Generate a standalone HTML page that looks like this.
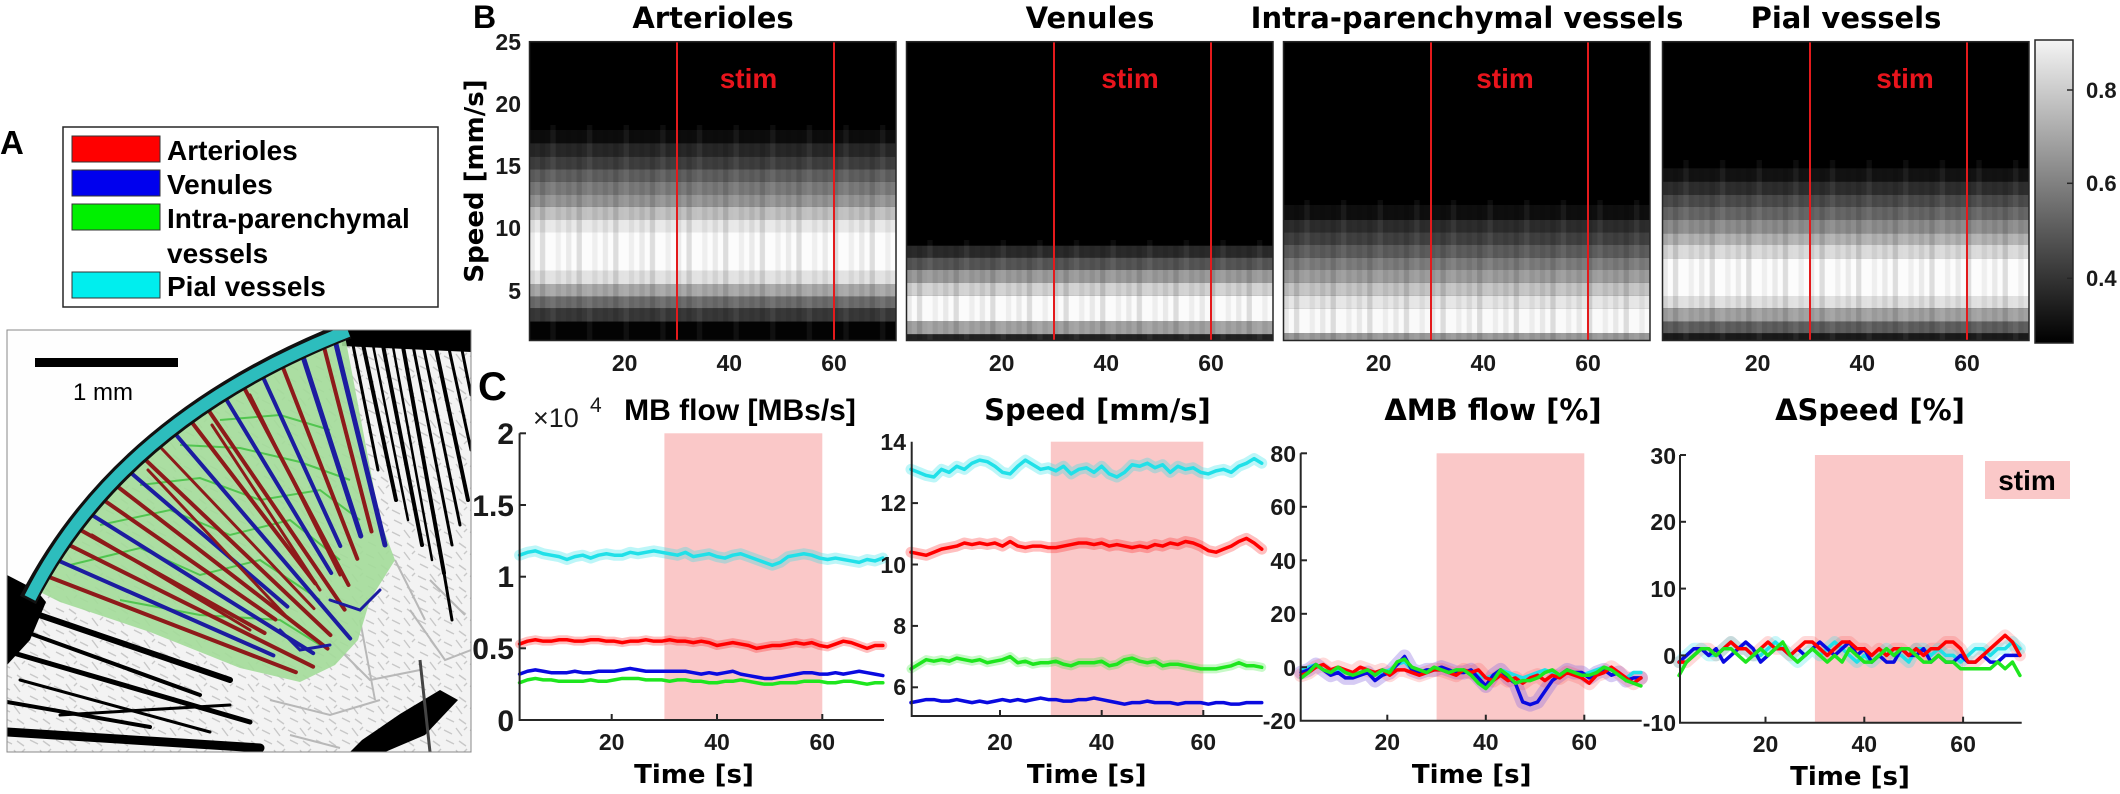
<!DOCTYPE html>
<html><head><meta charset="utf-8"><style>
html,body{margin:0;padding:0;background:#fff;}
svg{display:block;}
.t{font-family:"DejaVu Sans",sans-serif;font-weight:bold;fill:#000;}
.n{font-family:"Liberation Sans",sans-serif;font-weight:bold;fill:#1a1a1a;}
.l{font-family:"Liberation Sans",sans-serif;font-weight:bold;fill:#000;}
.stim{font-family:"Liberation Sans",sans-serif;font-weight:bold;fill:#e8141c;font-size:28px;text-anchor:middle;}
</style></head><body>
<svg width="2120" height="794" viewBox="0 0 2120 794" xmlns="http://www.w3.org/2000/svg">
<defs>
<pattern id="cols" x="0" y="0" width="36.63" height="20" patternUnits="userSpaceOnUse">
<rect x="0" y="0" width="5.23" height="20" fill="#000" fill-opacity="0.07"/>
<rect x="10.46" y="0" width="5.23" height="20" fill="#000" fill-opacity="0.12"/>
<rect x="20.9" y="0" width="5.23" height="20" fill="#fff" fill-opacity="0.05"/>
<rect x="26.15" y="0" width="5.23" height="20" fill="#000" fill-opacity="0.05"/>
</pattern>
<pattern id="tex" x="0" y="0" width="26" height="22" patternUnits="userSpaceOnUse">
<path d="M2,4 L10,8 M14,2 L20,10 M4,14 L12,18 M17,15 L24,20 M22,4 L25,1" stroke="#c8c8c8" stroke-width="1.4" fill="none"/>
</pattern>
<linearGradient id="cbar" x1="0" y1="0" x2="0" y2="1">
<stop offset="0" stop-color="#f4f4f4"/><stop offset="1" stop-color="#000"/>
</linearGradient>
<clipPath id="clipA"><rect x="7" y="330" width="464" height="422"/></clipPath>
</defs>

<!-- ===== Panel A ===== -->
<text class="l" x="0" y="154" font-size="33">A</text>
<rect x="63" y="127" width="375" height="180" fill="#fff" stroke="#262626" stroke-width="1.5"/>
<rect x="72" y="136" width="88" height="26" fill="#ff0000" stroke="#333" stroke-width="1"/>
<rect x="72" y="170" width="88" height="26" fill="#0000ee" stroke="#333" stroke-width="1"/>
<rect x="72" y="204" width="88" height="26" fill="#00f000" stroke="#333" stroke-width="1"/>
<rect x="72" y="272" width="88" height="26" fill="#00eeee" stroke="#333" stroke-width="1"/>
<text class="l" x="167" y="160" font-size="28">Arterioles</text>
<text class="l" x="167" y="194" font-size="28">Venules</text>
<text class="l" x="167" y="228" font-size="28">Intra-parenchymal</text>
<text class="l" x="167" y="263" font-size="28">vessels</text>
<text class="l" x="167" y="296" font-size="28">Pial vessels</text>

<g clip-path="url(#clipA)">
<rect x="7" y="330" width="464" height="422" fill="#fefefe"/>
<path d="M35,592 Q120,420 345,334 L471,330 L471,752 L7,752 L7,600 Z" fill="#f3f3f3"/>
<path d="M35,592 Q120,420 345,334 L471,330 L471,752 L7,752 L7,600 Z" fill="url(#tex)"/>
<g stroke="#b8b8b8" stroke-width="2" fill="none">
<path d="M330,640 L370,680 L420,670"/><path d="M270,700 L330,715 L380,700"/>
<path d="M360,620 L375,700"/><path d="M410,610 L445,660 L471,650"/>
<path d="M290,735 L340,748"/><path d="M430,580 L465,615"/><path d="M395,560 L425,620"/>
</g>
<!-- top-right black vessels -->
<polygon points="342,330 471,330 471,352 342,346" fill="#000"/>
<g stroke="#000" fill="none" stroke-linecap="round">
<line x1="350" y1="330" x2="378" y2="470" stroke-width="3"/>
<line x1="360" y1="330" x2="396" y2="500" stroke-width="4"/>
<line x1="370" y1="330" x2="408" y2="520" stroke-width="2.5"/>
<line x1="380" y1="330" x2="422" y2="545" stroke-width="4"/>
<line x1="390" y1="330" x2="432" y2="560" stroke-width="2.5"/>
<line x1="400" y1="330" x2="444" y2="573" stroke-width="4"/>
<line x1="410" y1="330" x2="452" y2="545" stroke-width="3"/>
<line x1="420" y1="330" x2="460" y2="525" stroke-width="3"/>
<line x1="432" y1="330" x2="468" y2="500" stroke-width="4"/>
<line x1="445" y1="330" x2="471" y2="450" stroke-width="3"/>
<line x1="458" y1="330" x2="471" y2="395" stroke-width="3"/>
<line x1="444" y1="573" x2="452" y2="620" stroke-width="3"/>
</g>
<!-- bottom-left black striations -->
<polygon points="7,575 36,590 46,602 30,640 7,665" fill="#000"/>
<g stroke="#000" fill="none" stroke-linecap="round">
<line x1="10" y1="605" x2="230" y2="680" stroke-width="6"/>
<line x1="15" y1="628" x2="200" y2="695" stroke-width="4"/>
<line x1="10" y1="652" x2="250" y2="722" stroke-width="5"/>
<line x1="20" y1="680" x2="210" y2="732" stroke-width="3"/>
<line x1="7" y1="702" x2="150" y2="727" stroke-width="4"/>
<line x1="7" y1="732" x2="260" y2="748" stroke-width="9"/>
<line x1="60" y1="715" x2="230" y2="705" stroke-width="3"/>
</g>
<!-- green sector -->
<polygon points="40,592 43.9,575 53.4,558.4 63.7,542.3 74.6,526.7 86.3,511.4 98.7,496.6 111.7,482.1 125.4,468.1 139.9,454.6 155,441.5 170.9,428.8 187.4,416.5 204.7,404.7 222.6,393.4 241.3,382.4 260.6,371.9 280.7,361.7 301.5,352 322.9,342.8 345,336 380,520 395,560 370,600 358,640 335,665 300,682 240,668 150,632 60,602" fill="#a3dc99" fill-opacity="0.9"/>
<g stroke="#3cc03c" stroke-width="2" fill="none" opacity="0.8">
<path d="M70,565 L140,548 L200,575 L260,560 L320,600"/><path d="M100,525 L170,510 L230,535 L290,520 L340,560"/>
<path d="M140,485 L200,478 L260,500 L320,490 L360,520"/><path d="M180,445 L240,448 L300,462 L350,480"/>
<path d="M120,600 L200,615 L280,620 L320,645"/><path d="M220,420 L280,415 L330,430"/>
</g>
<!-- red / blue penetrating vessels -->
<g fill="none" stroke-linecap="round">
<line x1="43.9" y1="575" x2="295.9" y2="672.2" stroke="#8e1a1a" stroke-width="4"/>
<line x1="53.4" y1="558.4" x2="273.4" y2="655.4" stroke="#1c1ca0" stroke-width="4"/>
<line x1="63.7" y1="542.3" x2="313.1" y2="666.7" stroke="#8e1a1a" stroke-width="4"/>
<line x1="74.6" y1="526.7" x2="264.6" y2="633" stroke="#8e1a1a" stroke-width="4"/>
<line x1="86.3" y1="511.4" x2="313.2" y2="653.2" stroke="#1c1ca0" stroke-width="4"/>
<line x1="98.7" y1="496.6" x2="275.4" y2="619.5" stroke="#8e1a1a" stroke-width="4"/>
<line x1="111.7" y1="482.1" x2="327.5" y2="648.6" stroke="#8e1a1a" stroke-width="4"/>
<line x1="125.4" y1="468.1" x2="287.4" y2="606.6" stroke="#1c1ca0" stroke-width="4"/>
<line x1="139.9" y1="454.6" x2="330.4" y2="635.1" stroke="#8e1a1a" stroke-width="4"/>
<line x1="155" y1="441.5" x2="314" y2="608.6" stroke="#8e1a1a" stroke-width="3"/>
<line x1="170.9" y1="428.8" x2="350.2" y2="638.5" stroke="#1c1ca0" stroke-width="4"/>
<line x1="187.4" y1="416.5" x2="315.3" y2="583.4" stroke="#8e1a1a" stroke-width="4"/>
<line x1="204.7" y1="404.7" x2="344.6" y2="609.6" stroke="#8e1a1a" stroke-width="4"/>
<line x1="222.6" y1="393.4" x2="331.2" y2="573" stroke="#1c1ca0" stroke-width="4"/>
<line x1="241.3" y1="382.4" x2="348.5" y2="585" stroke="#8e1a1a" stroke-width="4"/>
<line x1="260.6" y1="371.9" x2="340.3" y2="546" stroke="#1c1ca0" stroke-width="4"/>
<line x1="280.7" y1="361.7" x2="357.3" y2="558.8" stroke="#8e1a1a" stroke-width="4"/>
<line x1="301.5" y1="352" x2="360.8" y2="536" stroke="#1c1ca0" stroke-width="5"/>
<line x1="322.9" y1="342.8" x2="371.5" y2="531.4" stroke="#8e1a1a" stroke-width="4"/>
<line x1="335" y1="340" x2="385" y2="545" stroke="#1c1ca0" stroke-width="5"/>
<line x1="92" y1="535" x2="250" y2="630" stroke="#8e1a1a" stroke-width="3"/>
<line x1="148" y1="470" x2="285" y2="615" stroke="#8e1a1a" stroke-width="3"/>
<line x1="212" y1="425" x2="320" y2="590" stroke="#8e1a1a" stroke-width="3"/>
<line x1="250" y1="395" x2="340" y2="575" stroke="#8e1a1a" stroke-width="3"/>
<path d="M280,630 L300,650 L330,645" stroke="#1c1ca0" stroke-width="3"/>
<path d="M330,600 L360,610 L380,590" stroke="#1c1ca0" stroke-width="3"/>
</g>
<!-- pial arc -->
<path d="M28,600 Q120,420 348,330" fill="none" stroke="#111" stroke-width="18"/>
<path d="M30,598 Q120,420 348,331" fill="none" stroke="#2dbdbd" stroke-width="12"/>
<!-- bottom right blob -->
<polygon points="350,752 362,740 400,714 440,690 458,700 425,735 385,752" fill="#000"/>
<line x1="420" y1="660" x2="430" y2="752" stroke="#444" stroke-width="3"/>
</g>
<rect x="7" y="330" width="464" height="422" fill="none" stroke="#888" stroke-width="1"/>
<rect x="35" y="358" width="143" height="9" fill="#000"/>
<text x="103" y="400" font-family="Liberation Sans, sans-serif" font-size="24" text-anchor="middle" fill="#000">1 mm</text>

<!-- ===== Panel B ===== -->
<text class="l" x="473" y="28" font-size="32">B</text>
<g class="t" font-size="29" text-anchor="middle">
<text x="713" y="28">Arterioles</text>
<text x="1090" y="28">Venules</text>
<text x="1467" y="28">Intra-parenchymal vessels</text>
<text x="1846" y="28">Pial vessels</text>
</g>
<text class="t" font-size="26" text-anchor="middle" transform="translate(483,181) rotate(-90)">Speed [mm/s]</text>
<g class="n" font-size="23" text-anchor="end">
<text x="521" y="50">25</text><text x="521" y="112">20</text><text x="521" y="174">15</text>
<text x="521" y="236">10</text><text x="521" y="299">5</text>
</g>

<!-- Arterioles heatmap -->
<g transform="translate(529.5,0)">
<rect x="0" y="41.7" width="366.5" height="298.8" fill="#000"/>
<rect x="0" y="130" width="366.5" height="13.3" fill="#0c0c0c"/>
<rect x="0" y="143.3" width="366.5" height="13.4" fill="#272727"/>
<rect x="0" y="156.7" width="366.5" height="12.6" fill="#3e3e3e"/>
<rect x="0" y="169.3" width="366.5" height="12.4" fill="#5f5f5f"/>
<rect x="0" y="181.7" width="366.5" height="13.3" fill="#7a7a7a"/>
<rect x="0" y="195" width="366.5" height="11.7" fill="#959595"/>
<rect x="0" y="206.7" width="366.5" height="13.3" fill="#c0c0c0"/>
<rect x="0" y="220" width="366.5" height="12.5" fill="#e8e8e8"/>
<rect x="0" y="232.5" width="366.5" height="38" fill="#fcfcfc"/>
<rect x="0" y="270.5" width="366.5" height="13.5" fill="#e2e2e2"/>
<rect x="0" y="284" width="366.5" height="12.7" fill="#a8a8a8"/>
<rect x="0" y="296.7" width="366.5" height="11.6" fill="#6c6c6c"/>
<rect x="0" y="308.3" width="366.5" height="13.4" fill="#383838"/>
<rect x="0" y="321.7" width="366.5" height="18.8" fill="#030303"/>
<rect x="0" y="125" width="366.5" height="215" fill="url(#cols)"/>
<line x1="147.5" y1="41.7" x2="147.5" y2="340.5" stroke="#e41a1c" stroke-width="2"/>
<line x1="304.5" y1="41.7" x2="304.5" y2="340.5" stroke="#e41a1c" stroke-width="2"/>
<text class="stim" x="219" y="88">stim</text>
<rect x="0" y="41.7" width="366.5" height="298.8" fill="none" stroke="#262626" stroke-width="1.5"/>
</g>
<!-- Venules heatmap -->
<g transform="translate(906.5,0)">
<rect x="0" y="41.7" width="366.5" height="298.8" fill="#000"/>
<rect x="0" y="245.7" width="366.5" height="12" fill="#2a2a2a"/>
<rect x="0" y="257.7" width="366.5" height="12.3" fill="#555555"/>
<rect x="0" y="270" width="366.5" height="12.7" fill="#9a9a9a"/>
<rect x="0" y="282.7" width="366.5" height="13" fill="#d2d2d2"/>
<rect x="0" y="295.7" width="366.5" height="25.3" fill="#fbfbfb"/>
<rect x="0" y="321" width="366.5" height="13.3" fill="#a2a2a2"/>
<rect x="0" y="334.3" width="366.5" height="6.2" fill="#222222"/>
<rect x="0" y="240" width="366.5" height="100" fill="url(#cols)"/>
<line x1="147.5" y1="41.7" x2="147.5" y2="340.5" stroke="#e41a1c" stroke-width="2"/>
<line x1="304.5" y1="41.7" x2="304.5" y2="340.5" stroke="#e41a1c" stroke-width="2"/>
<text class="stim" x="223.5" y="88">stim</text>
<rect x="0" y="41.7" width="366.5" height="298.8" fill="none" stroke="#262626" stroke-width="1.5"/>
</g>
<!-- Intra-parenchymal heatmap -->
<g transform="translate(1283.5,0)">
<rect x="0" y="41.7" width="366.5" height="298.8" fill="#000"/>
<rect x="0" y="205" width="366.5" height="15" fill="#0e0e0e"/>
<rect x="0" y="220" width="366.5" height="12.3" fill="#2c2c2c"/>
<rect x="0" y="232.3" width="366.5" height="12.7" fill="#404040"/>
<rect x="0" y="245" width="366.5" height="12.7" fill="#5c5c5c"/>
<rect x="0" y="257.7" width="366.5" height="12.3" fill="#7c7c7c"/>
<rect x="0" y="270" width="366.5" height="12.7" fill="#9c9c9c"/>
<rect x="0" y="282.7" width="366.5" height="13" fill="#c4c4c4"/>
<rect x="0" y="295.7" width="366.5" height="12.6" fill="#e6e6e6"/>
<rect x="0" y="308.3" width="366.5" height="25" fill="#fafafa"/>
<rect x="0" y="333.3" width="366.5" height="7.2" fill="#9a9a9a"/>
<rect x="0" y="200" width="366.5" height="140" fill="url(#cols)"/>
<line x1="147.5" y1="41.7" x2="147.5" y2="340.5" stroke="#e41a1c" stroke-width="2"/>
<line x1="304.5" y1="41.7" x2="304.5" y2="340.5" stroke="#e41a1c" stroke-width="2"/>
<text class="stim" x="221.5" y="88">stim</text>
<rect x="0" y="41.7" width="366.5" height="298.8" fill="none" stroke="#262626" stroke-width="1.5"/>
</g>
<!-- Pial heatmap -->
<g transform="translate(1662.5,0)">
<rect x="0" y="41.7" width="366.5" height="298.8" fill="#000"/>
<rect x="0" y="168.3" width="366.5" height="13.4" fill="#121212"/>
<rect x="0" y="181.7" width="366.5" height="13.3" fill="#2d2d2d"/>
<rect x="0" y="195" width="366.5" height="11.7" fill="#4b4b4b"/>
<rect x="0" y="206.7" width="366.5" height="13.3" fill="#666666"/>
<rect x="0" y="220" width="366.5" height="13.3" fill="#8c8c8c"/>
<rect x="0" y="233.3" width="366.5" height="11.7" fill="#b2b2b2"/>
<rect x="0" y="245" width="366.5" height="13.3" fill="#dadada"/>
<rect x="0" y="258.3" width="366.5" height="37.7" fill="#fcfcfc"/>
<rect x="0" y="296" width="366.5" height="12.3" fill="#e0e0e0"/>
<rect x="0" y="308.3" width="366.5" height="13.4" fill="#a2a2a2"/>
<rect x="0" y="321.7" width="366.5" height="11.6" fill="#5e5e5e"/>
<rect x="0" y="333.3" width="366.5" height="7.2" fill="#1a1a1a"/>
<rect x="0" y="160" width="366.5" height="180" fill="url(#cols)"/>
<line x1="147.5" y1="41.7" x2="147.5" y2="340.5" stroke="#e41a1c" stroke-width="2"/>
<line x1="304.5" y1="41.7" x2="304.5" y2="340.5" stroke="#e41a1c" stroke-width="2"/>
<text class="stim" x="242.5" y="88">stim</text>
<rect x="0" y="41.7" width="366.5" height="298.8" fill="none" stroke="#262626" stroke-width="1.5"/>
</g>
<!-- heatmap x tick labels -->
<g class="n" font-size="23" text-anchor="middle">
<text x="624.7" y="371">20</text><text x="729.3" y="371">40</text><text x="834" y="371">60</text>
<text x="1001.7" y="371">20</text><text x="1106.3" y="371">40</text><text x="1211" y="371">60</text>
<text x="1378.7" y="371">20</text><text x="1483.3" y="371">40</text><text x="1588" y="371">60</text>
<text x="1757.7" y="371">20</text><text x="1862.3" y="371">40</text><text x="1967" y="371">60</text>
</g>
<!-- colorbar -->
<rect x="2035" y="40" width="38" height="303" fill="url(#cbar)" stroke="#262626" stroke-width="1.5"/>
<g stroke="#262626" stroke-width="1.5">
<line x1="2067" y1="90" x2="2073" y2="90"/><line x1="2067" y1="183.3" x2="2073" y2="183.3"/><line x1="2067" y1="278.3" x2="2073" y2="278.3"/>
</g>
<g class="n" font-size="22">
<text x="2086" y="98">0.8</text><text x="2086" y="191">0.6</text><text x="2086" y="286">0.4</text>
</g>

<!-- ===== Panel C ===== -->
<text class="l" x="478" y="400" font-size="40">C</text>

<!-- Plot 1 -->
<rect x="664.4" y="433.3" width="157.9" height="286.7" fill="#fac8c8"/>
<g transform="matrix(5.265 0 0 -143.3 506.4 720)" fill="none" stroke-linejoin="round" stroke-linecap="round">
<polyline vector-effect="non-scaling-stroke" stroke="#20e0e8" stroke-opacity="0.3" stroke-width="11" points="2.5,1.15 4,1.17 5.5,1.18 7,1.16 8.5,1.15 10,1.14 11.5,1.12 13,1.14 14.5,1.15 16,1.13 17.5,1.15 19,1.16 20.5,1.15 22,1.15 23.5,1.17 25,1.16 26.5,1.17 28,1.18 29.5,1.17 31,1.16 32.5,1.15 34,1.17 35.5,1.14 37,1.15 38.5,1.16 40,1.14 41.5,1.13 43,1.15 44.5,1.16 46,1.14 47.5,1.12 49,1.10 50.5,1.08 52,1.10 53.5,1.14 55,1.15 56.5,1.16 58,1.15 59.5,1.13 61,1.12 62.5,1.13 64,1.12 65.5,1.11 67,1.10 68.5,1.12 70,1.11 71.5,1.13"/>
<polyline vector-effect="non-scaling-stroke" stroke="#20e0e8" stroke-width="3.5" points="2.5,1.15 4,1.17 5.5,1.18 7,1.16 8.5,1.15 10,1.14 11.5,1.12 13,1.14 14.5,1.15 16,1.13 17.5,1.15 19,1.16 20.5,1.15 22,1.15 23.5,1.17 25,1.16 26.5,1.17 28,1.18 29.5,1.17 31,1.16 32.5,1.15 34,1.17 35.5,1.14 37,1.15 38.5,1.16 40,1.14 41.5,1.13 43,1.15 44.5,1.16 46,1.14 47.5,1.12 49,1.10 50.5,1.08 52,1.10 53.5,1.14 55,1.15 56.5,1.16 58,1.15 59.5,1.13 61,1.12 62.5,1.13 64,1.12 65.5,1.11 67,1.10 68.5,1.12 70,1.11 71.5,1.13"/>
<polyline vector-effect="non-scaling-stroke" stroke="#ff0000" stroke-opacity="0.25" stroke-width="9" points="2.5,.53 4,.55 5.5,.56 7,.55 8.5,.55 10,.56 11.5,.56 13,.55 14.5,.55 16,.56 17.5,.56 19,.55 20.5,.55 22,.54 23.5,.55 25,.55 26.5,.56 28,.55 29.5,.55 31,.56 32.5,.55 34,.55 35.5,.54 37,.55 38.5,.54 40,.52 41.5,.53 43,.54 44.5,.53 46,.52 47.5,.50 49,.51 50.5,.52 52,.52 53.5,.53 55,.54 56.5,.53 58,.54 59.5,.52 61,.51 62.5,.53 64,.55 65.5,.54 67,.52 68.5,.50 70,.52 71.5,.52"/>
<polyline vector-effect="non-scaling-stroke" stroke="#ff0000" stroke-width="3.5" points="2.5,.53 4,.55 5.5,.56 7,.55 8.5,.55 10,.56 11.5,.56 13,.55 14.5,.55 16,.56 17.5,.56 19,.55 20.5,.55 22,.54 23.5,.55 25,.55 26.5,.56 28,.55 29.5,.55 31,.56 32.5,.55 34,.55 35.5,.54 37,.55 38.5,.54 40,.52 41.5,.53 43,.54 44.5,.53 46,.52 47.5,.50 49,.51 50.5,.52 52,.52 53.5,.53 55,.54 56.5,.53 58,.54 59.5,.52 61,.51 62.5,.53 64,.55 65.5,.54 67,.52 68.5,.50 70,.52 71.5,.52"/>
<polyline vector-effect="non-scaling-stroke" stroke="#0a0ae0" stroke-width="3.5" points="2.5,.32 4,.34 5.5,.35 7,.34 8.5,.33 10,.33 11.5,.33 13,.34 14.5,.33 16,.33 17.5,.34 19,.34 20.5,.34 22,.35 23.5,.36 25,.35 26.5,.34 28,.34 29.5,.34 31,.34 32.5,.34 34,.34 35.5,.33 37,.32 38.5,.33 40,.32 41.5,.33 43,.34 44.5,.32 46,.31 47.5,.30 49,.29 50.5,.29 52,.30 53.5,.31 55,.32 56.5,.33 58,.33 59.5,.32 61,.32 62.5,.33 64,.32 65.5,.33 67,.34 68.5,.33 70,.32 71.5,.31"/>
<polyline vector-effect="non-scaling-stroke" stroke="#1ee61e" stroke-width="3.5" points="2.5,.26 4,.28 5.5,.29 7,.28 8.5,.28 10,.27 11.5,.27 13,.27 14.5,.27 16,.28 17.5,.27 19,.27 20.5,.28 22,.29 23.5,.29 25,.29 26.5,.28 28,.28 29.5,.28 31,.27 32.5,.28 34,.28 35.5,.27 37,.27 38.5,.26 40,.26 41.5,.27 43,.27 44.5,.28 46,.27 47.5,.26 49,.25 50.5,.25 52,.26 53.5,.26 55,.26 56.5,.27 58,.27 59.5,.27 61,.26 62.5,.26 64,.27 65.5,.27 67,.26 68.5,.25 70,.26 71.5,.26"/>
</g>
<path d="M519.6,433.3 V720 H884" fill="none" stroke="#262626" stroke-width="2"/>
<g stroke="#262626" stroke-width="2">
<line x1="519.6" y1="505" x2="526" y2="505"/><line x1="519.6" y1="576.7" x2="526" y2="576.7"/><line x1="519.6" y1="648.3" x2="526" y2="648.3"/><line x1="519.6" y1="433.3" x2="526" y2="433.3"/>
<line x1="611.7" y1="720" x2="611.7" y2="714"/><line x1="717" y1="720" x2="717" y2="714"/><line x1="822.3" y1="720" x2="822.3" y2="714"/>
</g>
<g class="n" font-size="30" text-anchor="end">
<text x="514" y="444">2</text><text x="514" y="516">1.5</text><text x="514" y="587">1</text><text x="514" y="659">0.5</text><text x="514" y="731">0</text>
</g>
<text x="533" y="427" font-family="Liberation Sans, sans-serif" font-size="27" fill="#1a1a1a">×10</text>
<text x="590" y="412" font-family="Liberation Sans, sans-serif" font-size="21" fill="#1a1a1a">4</text>
<text class="l" x="740" y="420" font-size="30" text-anchor="middle">MB flow [MBs/s]</text>
<g class="n" font-size="23" text-anchor="middle">
<text x="611.7" y="750">20</text><text x="717" y="750">40</text><text x="822.3" y="750">60</text>
</g>
<text class="t" x="694" y="783" font-size="26" text-anchor="middle">Time [s]</text>

<!-- Plot 2 -->
<rect x="1050.8" y="441.7" width="152.5" height="274.3" fill="#fac8c8"/>
<g transform="matrix(5.083 0 0 -30.7 898.3 871.5)" fill="none" stroke-linejoin="round" stroke-linecap="round">
<polyline vector-effect="non-scaling-stroke" stroke="#20e0e8" stroke-opacity="0.3" stroke-width="11" points="2.5,13.1 4,13.0 5.5,12.9 7,12.85 8.5,13.1 10,13.0 11.5,13.2 13,13.1 14.5,13.3 16,13.4 17.5,13.35 19,13.2 20.5,13.0 22,12.95 23.5,13.2 25,13.4 26.5,13.25 28,13.1 29.5,13.15 31,13.05 32.5,13.2 34,12.95 35.5,13.1 37,13.15 38.5,13.0 40,13.2 41.5,12.95 43,12.85 44.5,13.0 46,13.25 47.5,13.2 49,13.3 50.5,13.15 52,13.25 53.5,13.0 55,13.2 56.5,13.1 58,13.15 59.5,13.0 61,12.95 62.5,13.05 64,13.1 65.5,13.0 67,13.2 68.5,13.3 70,13.45 71.5,13.3"/>
<polyline vector-effect="non-scaling-stroke" stroke="#20e0e8" stroke-width="3.5" points="2.5,13.1 4,13.0 5.5,12.9 7,12.85 8.5,13.1 10,13.0 11.5,13.2 13,13.1 14.5,13.3 16,13.4 17.5,13.35 19,13.2 20.5,13.0 22,12.95 23.5,13.2 25,13.4 26.5,13.25 28,13.1 29.5,13.15 31,13.05 32.5,13.2 34,12.95 35.5,13.1 37,13.15 38.5,13.0 40,13.2 41.5,12.95 43,12.85 44.5,13.0 46,13.25 47.5,13.2 49,13.3 50.5,13.15 52,13.25 53.5,13.0 55,13.2 56.5,13.1 58,13.15 59.5,13.0 61,12.95 62.5,13.05 64,13.1 65.5,13.0 67,13.2 68.5,13.3 70,13.45 71.5,13.3"/>
<polyline vector-effect="non-scaling-stroke" stroke="#ff0000" stroke-opacity="0.25" stroke-width="11" points="2.5,10.4 4,10.35 5.5,10.3 7,10.4 8.5,10.5 10,10.55 11.5,10.6 13,10.7 14.5,10.65 16,10.7 17.5,10.65 19,10.7 20.5,10.6 22,10.75 23.5,10.6 25,10.55 26.5,10.6 28,10.6 29.5,10.55 31,10.55 32.5,10.6 34,10.65 35.5,10.7 37,10.7 38.5,10.65 40,10.7 41.5,10.6 43,10.65 44.5,10.6 46,10.55 47.5,10.6 49,10.55 50.5,10.65 52,10.6 53.5,10.7 55,10.65 56.5,10.75 58,10.7 59.5,10.6 61,10.45 62.5,10.4 64,10.5 65.5,10.6 67,10.75 68.5,10.85 70,10.7 71.5,10.5"/>
<polyline vector-effect="non-scaling-stroke" stroke="#ff0000" stroke-width="3.5" points="2.5,10.4 4,10.35 5.5,10.3 7,10.4 8.5,10.5 10,10.55 11.5,10.6 13,10.7 14.5,10.65 16,10.7 17.5,10.65 19,10.7 20.5,10.6 22,10.75 23.5,10.6 25,10.55 26.5,10.6 28,10.6 29.5,10.55 31,10.55 32.5,10.6 34,10.65 35.5,10.7 37,10.7 38.5,10.65 40,10.7 41.5,10.6 43,10.65 44.5,10.6 46,10.55 47.5,10.6 49,10.55 50.5,10.65 52,10.6 53.5,10.7 55,10.65 56.5,10.75 58,10.7 59.5,10.6 61,10.45 62.5,10.4 64,10.5 65.5,10.6 67,10.75 68.5,10.85 70,10.7 71.5,10.5"/>
<polyline vector-effect="non-scaling-stroke" stroke="#1ee61e" stroke-opacity="0.25" stroke-width="9" points="2.5,6.6 4,6.75 5.5,6.9 7,6.85 8.5,6.9 10,6.85 11.5,6.95 13,6.9 14.5,6.85 16,6.9 17.5,6.8 19,6.85 20.5,6.9 22,7.0 23.5,6.8 25,6.85 26.5,6.75 28,6.8 29.5,6.8 31,6.85 32.5,6.75 34,6.7 35.5,6.8 37,6.8 38.5,6.8 40,6.85 41.5,6.7 43,6.75 44.5,6.9 46,6.95 47.5,6.85 49,6.8 50.5,6.85 52,6.7 53.5,6.75 55,6.75 56.5,6.7 58,6.65 59.5,6.6 61,6.6 62.5,6.6 64,6.65 65.5,6.7 67,6.8 68.5,6.7 70,6.7 71.5,6.65"/>
<polyline vector-effect="non-scaling-stroke" stroke="#1ee61e" stroke-width="3.5" points="2.5,6.6 4,6.75 5.5,6.9 7,6.85 8.5,6.9 10,6.85 11.5,6.95 13,6.9 14.5,6.85 16,6.9 17.5,6.8 19,6.85 20.5,6.9 22,7.0 23.5,6.8 25,6.85 26.5,6.75 28,6.8 29.5,6.8 31,6.85 32.5,6.75 34,6.7 35.5,6.8 37,6.8 38.5,6.8 40,6.85 41.5,6.7 43,6.75 44.5,6.9 46,6.95 47.5,6.85 49,6.8 50.5,6.85 52,6.7 53.5,6.75 55,6.75 56.5,6.7 58,6.65 59.5,6.6 61,6.6 62.5,6.6 64,6.65 65.5,6.7 67,6.8 68.5,6.7 70,6.7 71.5,6.65"/>
<polyline vector-effect="non-scaling-stroke" stroke="#0a0ae0" stroke-width="3.5" points="2.5,5.5 4,5.55 5.5,5.6 7,5.6 8.5,5.55 10,5.55 11.5,5.6 13,5.55 14.5,5.5 16,5.55 17.5,5.5 19,5.55 20.5,5.6 22,5.55 23.5,5.6 25,5.55 26.5,5.6 28,5.65 29.5,5.6 31,5.6 32.5,5.55 34,5.55 35.5,5.6 37,5.6 38.5,5.65 40,5.6 41.5,5.55 43,5.5 44.5,5.45 46,5.5 47.5,5.5 49,5.55 50.5,5.5 52,5.5 53.5,5.5 55,5.45 56.5,5.5 58,5.5 59.5,5.5 61,5.45 62.5,5.5 64,5.5 65.5,5.45 67,5.45 68.5,5.5 70,5.5 71.5,5.5"/>
</g>
<path d="M911.7,441.7 V716 H1262.7" fill="none" stroke="#262626" stroke-width="2"/>
<g stroke="#262626" stroke-width="2">
<line x1="911.7" y1="503.1" x2="918" y2="503.1"/><line x1="911.7" y1="564.5" x2="918" y2="564.5"/><line x1="911.7" y1="625.9" x2="918" y2="625.9"/><line x1="911.7" y1="687.3" x2="918" y2="687.3"/>
<line x1="1000" y1="716" x2="1000" y2="710"/><line x1="1101.7" y1="716" x2="1101.7" y2="710"/><line x1="1203.3" y1="716" x2="1203.3" y2="710"/>
</g>
<g class="n" font-size="23" text-anchor="end">
<text x="906" y="450">14</text><text x="906" y="511">12</text><text x="906" y="573">10</text><text x="906" y="634">8</text><text x="906" y="695">6</text>
</g>
<text class="t" x="1097.5" y="420" font-size="29" text-anchor="middle">Speed [mm/s]</text>
<g class="n" font-size="23" text-anchor="middle">
<text x="1000" y="750">20</text><text x="1101.7" y="750">40</text><text x="1203.3" y="750">60</text>
</g>
<text class="t" x="1086.7" y="783" font-size="26" text-anchor="middle">Time [s]</text>

<!-- Plot 3 -->
<rect x="1436.6" y="453.3" width="147.7" height="267.4" fill="#fac8c8"/>
<g transform="matrix(4.925 0 0 -2.674 1288.8 667.2)" fill="none" stroke-linejoin="round" stroke-linecap="round">
<polyline vector-effect="non-scaling-stroke" stroke="#8a6ae0" stroke-opacity="0.35" stroke-width="14" points="2.5,-2 4,-1 5.5,1 7,-1 8.5,-3 10,-2 11.5,-4 13,-4 14.5,-3 16,-2 17.5,-5 19,-3 20.5,-2 22,1 23.5,4 25,-1 26.5,-2 28,-1 29.5,-1 31,0 32.5,-1 34,-2 35.5,-2 37,-1 38.5,-4 40,-7 41.5,-3 43,-1 44.5,-4 46,-6 47.5,-13 49,-14 50.5,-13 52,-9 53.5,-5 55,-3 56.5,-1 58,-2 59.5,-2 61,-4 62.5,-2 64,-1 65.5,-3 67,-2 68.5,-5 70,-4 71.5,-4"/>
<polyline vector-effect="non-scaling-stroke" stroke="#ff4040" stroke-opacity="0.2" stroke-width="14" points="2.5,-3 4,-2 5.5,0 7,1 8.5,-1 10,0 11.5,-1 13,-2 14.5,0 16,-1 17.5,-2 19,-1 20.5,-3 22,-1 23.5,-1 25,-2 26.5,-3 28,-2 29.5,-1 31,-1 32.5,-2 34,-3 35.5,-1 37,-2 38.5,-1 40,-4 41.5,-5 43,-3 44.5,-5 46,-4 47.5,-6 49,-4 50.5,-3 52,-5 53.5,-3 55,-4 56.5,-2 58,-3 59.5,-4 61,-6 62.5,-3 64,-2 65.5,0 67,-2 68.5,-4 70,-6 71.5,-4"/>
<polyline vector-effect="non-scaling-stroke" stroke="#20e0e8" stroke-width="3.5" points="2.5,-1 4,0 5.5,1 7,-1 8.5,-2 10,-1 11.5,-2 13,-3 14.5,-2 16,-1 17.5,-3 19,-2 20.5,-1 22,1 23.5,2 25,-1 26.5,-1 28,-2 29.5,-1 31,-1 32.5,-2 34,-1 35.5,-2 37,-1 38.5,-3 40,-4 41.5,-3 43,-1 44.5,-2 46,-3 47.5,-4 49,-3 50.5,-2 52,-1 53.5,-2 55,-3 56.5,-1 58,-2 59.5,-3 61,-2 62.5,-1 64,0 65.5,-1 67,-3 68.5,-4 70,-2 71.5,-2"/>
<polyline vector-effect="non-scaling-stroke" stroke="#0a0ae0" stroke-width="3.5" points="2.5,-2 4,-1 5.5,1 7,-1 8.5,-3 10,-2 11.5,-4 13,-4 14.5,-3 16,-2 17.5,-5 19,-3 20.5,-2 22,1 23.5,4 25,-1 26.5,-2 28,-1 29.5,-1 31,0 32.5,-1 34,-2 35.5,-2 37,-1 38.5,-4 40,-7 41.5,-3 43,-1 44.5,-4 46,-6 47.5,-13 49,-14 50.5,-13 52,-9 53.5,-5 55,-3 56.5,-1 58,-2 59.5,-2 61,-4 62.5,-2 64,-1 65.5,-3 67,-2 68.5,-5 70,-4 71.5,-4"/>
<polyline vector-effect="non-scaling-stroke" stroke="#ff0000" stroke-width="3.5" points="2.5,-3 4,-2 5.5,0 7,1 8.5,-1 10,0 11.5,-1 13,-2 14.5,0 16,-1 17.5,-2 19,-1 20.5,-3 22,-1 23.5,-1 25,-2 26.5,-3 28,-2 29.5,-1 31,-1 32.5,-2 34,-3 35.5,-1 37,-2 38.5,-1 40,-4 41.5,-5 43,-3 44.5,-5 46,-4 47.5,-6 49,-4 50.5,-3 52,-5 53.5,-3 55,-4 56.5,-2 58,-3 59.5,-4 61,-6 62.5,-3 64,-2 65.5,0 67,-2 68.5,-4 70,-6 71.5,-4"/>
<polyline vector-effect="non-scaling-stroke" stroke="#1ee61e" stroke-width="3.5" points="2.5,-4 4,-2 5.5,1 7,-1 8.5,-2 10,0 11.5,-2 13,-3 14.5,-2 16,-1 17.5,-3 19,-1 20.5,-2 22,2 23.5,3 25,0 26.5,-1 28,-2 29.5,0 31,-1 32.5,-2 34,-1 35.5,-1 37,-3 38.5,-6 40,-8 41.5,-5 43,-1 44.5,-3 46,-6 47.5,-5 49,-5 50.5,-4 52,-2 53.5,-1 55,-3 56.5,-1 58,-2 59.5,-3 61,-3 62.5,-2 64,0 65.5,-1 67,-3 68.5,-5 70,-6 71.5,-7"/>
</g>
<path d="M1300.7,453.3 V720.7 H1641.7" fill="none" stroke="#262626" stroke-width="2"/>
<g stroke="#262626" stroke-width="2">
<line x1="1300.7" y1="506.8" x2="1307" y2="506.8"/><line x1="1300.7" y1="560.3" x2="1307" y2="560.3"/><line x1="1300.7" y1="613.8" x2="1307" y2="613.8"/><line x1="1300.7" y1="667.2" x2="1307" y2="667.2"/><line x1="1300.7" y1="453.3" x2="1307" y2="453.3"/>
<line x1="1387.3" y1="720.7" x2="1387.3" y2="714.7"/><line x1="1485.8" y1="720.7" x2="1485.8" y2="714.7"/><line x1="1584.3" y1="720.7" x2="1584.3" y2="714.7"/>
</g>
<g class="n" font-size="23" text-anchor="end">
<text x="1296" y="462">80</text><text x="1296" y="515">60</text><text x="1296" y="569">40</text><text x="1296" y="622">20</text><text x="1296" y="676">0</text><text x="1296" y="729">-20</text>
</g>
<text class="t" x="1493" y="420" font-size="29" text-anchor="middle">ΔMB flow [%]</text>
<g class="n" font-size="23" text-anchor="middle">
<text x="1387.3" y="750">20</text><text x="1485.8" y="750">40</text><text x="1584.3" y="750">60</text>
</g>
<text class="t" x="1471.7" y="783" font-size="26" text-anchor="middle">Time [s]</text>

<!-- Plot 4 -->
<rect x="1814.9" y="455" width="148.2" height="267.7" fill="#fac8c8"/>
<g transform="matrix(4.94 0 0 -6.68 1666.7 655.4)" fill="none" stroke-linejoin="round" stroke-linecap="round">
<polyline vector-effect="non-scaling-stroke" stroke="#ff4040" stroke-opacity="0.2" stroke-width="12" points="2.5,-1 4,-1 5.5,0 7,1 8.5,1 10,0 11.5,1 13,2 14.5,1 16,1 17.5,0 19,1 20.5,2 22,1 23.5,1 25,0 26.5,1 28,2 29.5,2 31,1 32.5,0 34,1 35.5,2 37,2 38.5,1 40,1 41.5,0 43,1 44.5,0 46,1 47.5,1 49,0 50.5,1 52,0 53.5,1 55,1 56.5,2 58,2 59.5,1 61,-1 62.5,-1 64,0 65.5,1 67,2 68.5,3 70,2 71.5,0"/>
<polyline vector-effect="non-scaling-stroke" stroke="#20e0e8" stroke-opacity="0.25" stroke-width="12" points="2.5,-1 4,0 5.5,1 7,1 8.5,0 10,0 11.5,1 13,2 14.5,1 16,1 17.5,0 19,0 20.5,1 22,2 23.5,1 25,0 26.5,-1 28,0 29.5,1 31,0 32.5,1 34,2 35.5,1 37,0 38.5,-1 40,0 41.5,-1 43,0 44.5,1 46,0 47.5,0 49,-1 50.5,1 52,1 53.5,0 55,1 56.5,0 58,0 59.5,-1 61,0 62.5,1 64,1 65.5,0 67,1 68.5,1 70,2 71.5,1"/>
<polyline vector-effect="non-scaling-stroke" stroke="#20e0e8" stroke-width="3.5" points="2.5,-1 4,0 5.5,1 7,1 8.5,0 10,0 11.5,1 13,2 14.5,1 16,1 17.5,0 19,0 20.5,1 22,2 23.5,1 25,0 26.5,-1 28,0 29.5,1 31,0 32.5,1 34,2 35.5,1 37,0 38.5,-1 40,0 41.5,-1 43,0 44.5,1 46,0 47.5,0 49,-1 50.5,1 52,1 53.5,0 55,1 56.5,0 58,0 59.5,-1 61,0 62.5,1 64,1 65.5,0 67,1 68.5,1 70,2 71.5,1"/>
<polyline vector-effect="non-scaling-stroke" stroke="#0a0ae0" stroke-width="3.5" points="2.5,-1 4,0 5.5,1 7,1 8.5,0 10,1 11.5,-1 13,0 14.5,1 16,2 17.5,1 19,-1 20.5,0 22,1 23.5,1 25,0 26.5,1 28,0 29.5,1 31,2 32.5,1 34,0 35.5,1 37,2 38.5,0 40,1 41.5,-1 43,0 44.5,-1 46,-1 47.5,1 49,0 50.5,0 52,1 53.5,-1 55,0 56.5,-1 58,-1 59.5,0 61,-1 62.5,-1 64,0 65.5,-1 67,-1 68.5,0 70,0 71.5,0"/>
<polyline vector-effect="non-scaling-stroke" stroke="#ff0000" stroke-width="3.5" points="2.5,-1 4,-1 5.5,0 7,1 8.5,1 10,0 11.5,1 13,2 14.5,1 16,1 17.5,0 19,1 20.5,2 22,1 23.5,1 25,0 26.5,1 28,2 29.5,2 31,1 32.5,0 34,1 35.5,2 37,2 38.5,1 40,1 41.5,0 43,1 44.5,0 46,1 47.5,1 49,0 50.5,1 52,0 53.5,1 55,1 56.5,2 58,2 59.5,1 61,-1 62.5,-1 64,0 65.5,1 67,2 68.5,3 70,2 71.5,0"/>
<polyline vector-effect="non-scaling-stroke" stroke="#1ee61e" stroke-width="3.5" points="2.5,-3 4,-1 5.5,0 7,1 8.5,1 10,0 11.5,1 13,1 14.5,0 16,-1 17.5,0 19,1 20.5,0 22,1 23.5,2 25,0 26.5,-1 28,0 29.5,1 31,0 32.5,-1 34,0 35.5,-1 37,1 38.5,0 40,-1 41.5,-1 43,0 44.5,1 46,0 47.5,1 49,1 50.5,0 52,-1 53.5,-1 55,0 56.5,-1 58,-1 59.5,-2 61,-2 62.5,-2 64,-2 65.5,-2 67,-1 68.5,-2 70,-1 71.5,-3"/>
</g>
<path d="M1680,455 V722.7 H2021.7" fill="none" stroke="#262626" stroke-width="2"/>
<g stroke="#262626" stroke-width="2">
<line x1="1680" y1="521.8" x2="1686" y2="521.8"/><line x1="1680" y1="588.6" x2="1686" y2="588.6"/><line x1="1680" y1="655.4" x2="1686" y2="655.4"/><line x1="1680" y1="455" x2="1686" y2="455"/>
<line x1="1765.5" y1="722.7" x2="1765.5" y2="716.7"/><line x1="1864.3" y1="722.7" x2="1864.3" y2="716.7"/><line x1="1963.1" y1="722.7" x2="1963.1" y2="716.7"/>
</g>
<g class="n" font-size="23" text-anchor="end">
<text x="1676" y="464">30</text><text x="1676" y="530">20</text><text x="1676" y="597">10</text><text x="1676" y="664">0</text><text x="1676" y="731">-10</text>
</g>
<text class="t" x="1870" y="420" font-size="29" text-anchor="middle">ΔSpeed [%]</text>
<g class="n" font-size="23" text-anchor="middle">
<text x="1765.5" y="752">20</text><text x="1864.3" y="752">40</text><text x="1963.1" y="752">60</text>
</g>
<text class="t" x="1850" y="785" font-size="26" text-anchor="middle">Time [s]</text>

<!-- stim legend -->
<rect x="1985" y="461" width="85" height="38" fill="#fac8c8"/>
<text class="l" x="2027" y="490" font-size="28" text-anchor="middle">stim</text>
</svg>
</body></html>
